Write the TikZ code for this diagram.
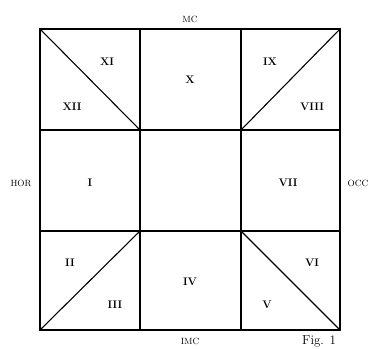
\documentclass[tikz,border=0pt]{standalone}
\begin{document}
\begin{tikzpicture}[x=1pt,y=-1pt,
  box/.style={draw=black,line width=1.3pt},
  diag/.style={draw=black,line width=1.1pt},
  lab/.style={font=\fontsize{11}{13}\selectfont\bfseries,inner sep=1pt},
  side/.style={font=\fontsize{9}{11}\selectfont,inner sep=1pt}]
\useasboundingbox (0,0) rectangle (376,349);
\coordinate (A) at (40,29);
\coordinate (B) at (140,29);
\coordinate (C) at (241,29);
\coordinate (D) at (340,29);
\coordinate (E) at (40,130);
\coordinate (F) at (140,130);
\coordinate (G) at (241,130);
\coordinate (H) at (340,130);
\coordinate (I) at (40,231);
\coordinate (J) at (140,231);
\coordinate (K) at (241,231);
\coordinate (L) at (340,231);
\coordinate (M) at (40,330);
\coordinate (N) at (140,330);
\coordinate (O) at (241,330);
\coordinate (P) at (340,330);
\draw[box] (A) rectangle (P);
\draw[box] (B) -- (N);
\draw[box] (C) -- (O);
\draw[box] (E) -- (H);
\draw[box] (I) -- (L);
\draw[diag] (A) -- (F);
\draw[diag] (G) -- (D);
\draw[diag] (M) -- (J);
\draw[diag] (K) -- (P);
\node[lab] (xi) at (107,62) {XI};
\node[lab] (xii) at (72,107) {XII};
\node[lab] (x) at (190,80) {X};
\node[lab] (ix) at (270,62) {IX};
\node[lab] (viii) at (312,107) {VIII};
\node[lab] (i) at (90,183) {I};
\node[lab] (vii) at (288,183) {VII};
\node[lab] (ii) at (70,263) {II};
\node[lab] (iii) at (115,305) {III};
\node[lab] (iv) at (190,282) {IV};
\node[lab] (v) at (267,305) {V};
\node[lab] (vi) at (312,263) {VI};
\node[side] (mc) at (190,19) {MC};
\node[side] (imc) at (190,341) {IMC};
\node[side] (hor) at (21,183) {HOR};
\node[side] (occ) at (358,183) {OCC};
\node[font=\fontsize{13}{15}\selectfont,anchor=south west,inner sep=0pt] (fig) at (302,347) {Fig. 1};
\end{tikzpicture}
\end{document}
